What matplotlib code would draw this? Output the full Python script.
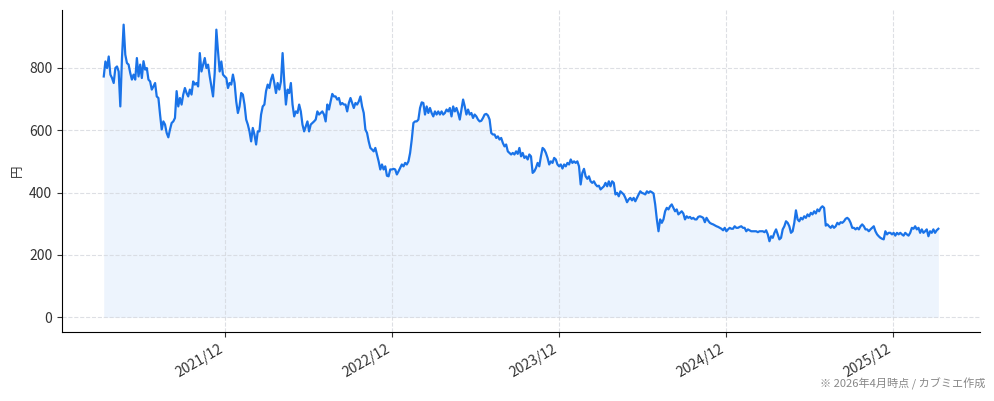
import matplotlib
matplotlib.use("Agg")
import matplotlib.pyplot as plt
import matplotlib.dates as mdates
import pandas as pd

plt.rcParams["font.family"] = ["Noto Sans CJK JP", "DejaVu Sans"]

# closing prices (yen), evenly spaced from START to END
START = "2021-03-10"
END = "2026-03-10"
prices = [
    # 2021/03 - 2021/12
    772, 820, 799, 836, 778, 767, 751, 799, 804, 788, 676, 831, 938, 842, 815, 810,
    783, 762, 778, 762, 831, 772, 810, 767, 821, 794, 799, 762, 756, 730, 740, 751,
    708, 703, 650, 602, 628, 618, 591, 577, 602, 623, 628, 639, 725, 676, 703, 682,
    714, 735, 719, 708, 730, 714, 756, 746, 751, 740, 847, 788, 810, 831, 799, 810,
    772, 740, 708, 783, 922, 852, 788, 820, 778, 772,
    # 2021/12 - 2022/08
    767, 735, 751, 746, 778, 751, 692, 655, 676, 719, 714, 682, 634, 618, 596, 564,
    607, 586, 554, 596, 596, 650, 676, 682, 725, 746, 735, 762, 778, 751, 719, 751,
    730, 756, 847, 756, 682, 730, 719, 751, 682, 644, 660, 655, 682, 660, 618, 596,
    612, 628, 596, 618, 623, 628, 634, 660, 650, 655, 660, 650, 628, 682, 666, 692,
    716, 708, 708, 698, 703, 682, 687, 682,
    # 2022/08 - 2023/07
    682, 660, 687, 703, 687, 671, 687, 682, 692, 708, 676, 655, 602, 591, 564, 543,
    538, 532, 543, 522, 500, 474, 490, 474, 484, 454, 452, 474, 474, 476, 474, 458,
    468, 479, 490, 484, 495, 490, 500, 527, 570, 623, 628, 628, 634, 671, 689, 687,
    650, 676, 655, 671, 655, 644, 660, 650, 660, 650, 660, 650, 655, 666, 660, 671,
    644, 676, 660, 671, 655, 634, 666, 698, 676,
    # 2023/07 - 2024/01
    650, 666, 650, 655, 639, 650, 644, 634, 628, 630, 639, 650, 652, 647, 634, 591,
    586, 586, 575, 580, 570, 575, 559, 548, 554, 532, 527, 522, 527, 522, 532, 524,
    543, 516, 527, 511, 516, 506, 522, 516, 463, 468, 479, 495, 484, 516, 543, 538,
    527, 511, 490, 500, 495, 511, 506, 490, 484, 490, 477, 490, 484, 495, 490, 506,
    495, 500, 495, 500,
    # 2024/01 - 2024/11
    484, 426, 463, 476, 452, 444, 452, 436, 431, 436, 426, 420, 422, 410, 415, 420,
    431, 420, 436, 420, 436, 431, 394, 399, 388, 404, 399, 394, 383, 369, 378, 383,
    375, 383, 372, 383, 394, 404, 399, 397, 394, 404, 399, 404, 401, 397, 362, 314,
    276, 314, 303, 314, 340, 351, 346, 356, 362, 351, 340, 346, 330, 335, 340, 333,
    314, 324, 319, 322, 316, 319, 314, 314, 322, 324, 322, 319, 305,
    # 2024/11 - 2025/08
    319, 310, 303, 300, 298, 295, 292, 290, 287, 284, 279, 287, 276, 282, 287, 284,
    284, 292, 287, 287, 290, 292, 287, 287, 276, 282, 279, 276, 276, 276, 276, 273,
    276, 276, 276, 273, 279, 266, 244, 260, 255, 271, 282, 266, 250, 255, 282, 292,
    308, 303, 292, 271, 276, 303, 343, 314, 308, 319, 314, 324, 319, 330, 324, 335,
    330, 340, 333, 346, 340, 351, 356, 351,
    # 2025/08 - 2026/03
    294, 298, 292, 287, 294, 287, 292, 303, 298, 305, 303, 308, 316, 319, 314, 303,
    287, 287, 282, 287, 282, 292, 298, 292, 282, 282, 276, 282, 287, 292, 276, 266,
    260, 255, 252, 250, 276, 266, 271, 271, 266, 271, 262, 271, 266, 271, 266, 262,
    271, 266, 262, 271, 287, 284, 292, 282, 287, 271, 282, 271, 276, 282, 260, 276,
    271, 282, 271, 279, 284,
]
dates = pd.date_range(START, END, periods=len(prices))

LINE = "#1a73e8"

fig = plt.figure(figsize=(9.94, 4.01), dpi=100)
ax = fig.add_axes([0.0624, 0.172, 0.9236, 0.803])

ax.plot(dates, prices, color=LINE, linewidth=1.6)
ax.fill_between(dates, prices, 0, color=LINE, alpha=0.08, linewidth=0)

ax.xaxis.set_major_locator(mdates.MonthLocator(bymonth=12))
ax.xaxis.set_major_formatter(mdates.DateFormatter("%Y/%m"))
for lbl in ax.get_xticklabels():
    lbl.set_rotation(30)
    lbl.set_ha("right")

ax.set_ylabel("円", fontsize=9, color="#333333")
ax.tick_params(labelsize=10, colors="#333333")
ax.grid(True, color="#d5d8de", linestyle="--", linewidth=0.8, alpha=0.8)
ax.spines["top"].set_visible(False)
ax.spines["right"].set_visible(False)

fig.text(0.991, 0.028, "※ 2026年4月時点 / カブミエ作成", ha="right", va="bottom",
         fontsize=8, color="#888888")

fig.savefig("out.png", dpi=100)
